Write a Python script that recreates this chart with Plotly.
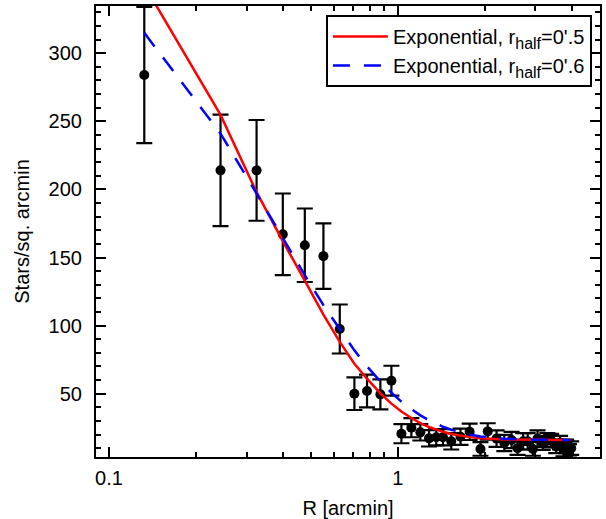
import plotly.graph_objects as go

# Observed radial profile
r_data = [0.1325, 0.2434, 0.3245, 0.400, 0.4767, 0.553, 0.630, 0.708, 0.783, 0.871, 0.951,
          1.03, 1.115, 1.198, 1.284, 1.36, 1.435, 1.533, 1.65, 1.775, 1.935, 2.05, 2.2,
          2.34, 2.48, 2.60, 2.72, 2.82, 2.94, 3.05, 3.18, 3.3, 3.4, 3.54, 3.65, 3.75,
          3.83, 3.92, 3.99]
dens = [284, 214, 214, 167, 159, 151, 97.5, 50, 52, 49.5, 59.5,
        20.6, 25, 21.6, 17.2, 18, 18, 15, 18.4, 22, 9.4, 22.3, 17,
        13.8, 16, 10, 15, 15, 9.4, 17, 13.8, 16, 15.5, 11.3, 14, 9,
        11.3, 8, 10]
dens_err = [50, 41, 37, 30, 27, 24, 18, 12, 12, 11, 11,
            7, 7, 6, 6, 6, 6, 6, 6, 6, 5, 6, 6,
            6, 6, 5, 6, 6, 5, 6, 5, 5, 5, 5, 5, 5,
            5, 5, 5]

# Model curves read at the same radii
model_05 = [350, 254.7, 198, 162, 133, 108, 88, 72, 61, 50.2, 42.7,
            36.9, 32.1, 28.4, 25.5, 23.5, 22, 20.4, 19.1, 18.1, 17.3, 16.9, 16.6,
            16.4, 16.3, 16.2, 16.2, 16.1, 16.1, 16.1, 16.1, 16.0, 16.0, 16.0, 16.0, 16.0,
            16.0, 16.0, 16.0]
model_06 = [315, 241, 197, 164, 137, 115, 97, 81.8, 70, 58.9, 50.7,
            44.2, 38.6, 34.1, 30.5, 27.8, 25.7, 23.5, 21.5, 20, 18.6, 17.9, 17.3,
            16.9, 16.6, 16.45, 16.3, 16.25, 16.2, 16.15, 16.1, 16.1, 16.05, 16.05, 16.0, 16.0,
            16.0, 16.0, 16.0]

label_05 = "Exponential, r<sub><span style='font-size:16px'>half</span></sub>=0'.5"
label_06 = "Exponential, r<sub><span style='font-size:16px'>half</span></sub>=0'.6"

x_major = [0.1, 1]
x_minor = [0.2, 0.3, 0.4, 0.5, 0.6, 0.7, 0.8, 0.9, 2, 3, 4, 5]
y_major = [50, 100, 150, 200, 250, 300]
y_minor = [10, 20, 30, 40, 60, 70, 80, 90, 110, 120, 130, 140, 160, 170, 180, 190,
           210, 220, 230, 240, 260, 270, 280, 290, 310, 320, 330]

FONT = "Liberation Sans, Arial, Helvetica, sans-serif"
FS = 20

fig = go.Figure()
fig.add_trace(go.Scatter(
    x=r_data, y=dens, mode="markers", showlegend=False,
    marker=dict(color="black", size=10),
    error_y=dict(type="data", array=dens_err, color="black", thickness=2.2, width=8),
))
fig.add_trace(go.Scatter(
    x=r_data, y=model_05, mode="lines", name=label_05,
    line=dict(color="#ff0000", width=2.5),
))
fig.add_trace(go.Scatter(
    x=r_data, y=model_06, mode="lines", name=label_06,
    line=dict(color="#0000ff", width=2.5, dash="17px,14px"),
))

axis_common = dict(
    showline=True, linecolor="black", linewidth=2.2, mirror="allticks",
    ticks="inside", ticklen=10, tickwidth=1.5, tickcolor="black",
    showgrid=False, zeroline=False, automargin=False,
    tickfont=dict(family=FONT, size=FS, color="black"),
    title_font=dict(family=FONT, size=FS, color="black"),
)

fig.update_xaxes(
    type="log", range=[-1.045, 0.7007],
    tickmode="array", tickvals=x_major, ticktext=["0.1", "1"],
    minor=dict(tickmode="array", tickvals=x_minor, ticks="inside", ticklen=5,
               tickwidth=1.5, tickcolor="black", showgrid=False),
    title_text="R [arcmin]", title_standoff=14,
    ticklabelstandoff=2,
    **axis_common,
)
fig.update_yaxes(
    range=[3.5, 334.7],
    tickmode="array", tickvals=y_major,
    minor=dict(tickmode="array", tickvals=y_minor, ticks="inside", ticklen=5,
               tickwidth=1.5, tickcolor="black", showgrid=False),
    title_text="Stars/sq. arcmin", title_standoff=14,
    ticklabelstandoff=8,
    **axis_common,
)

fig.update_layout(
    width=606, height=519,
    margin=dict(l=96, r=6, t=6, b=62),
    paper_bgcolor="white", plot_bgcolor="white",
    font=dict(family=FONT, size=FS, color="black"),
    legend=dict(
        x=0.984, y=0.98, xanchor="right", yanchor="top",
        bordercolor="black", borderwidth=2, bgcolor="white",
        font=dict(family=FONT, size=FS, color="black"),
        tracegroupgap=0, itemwidth=55,
    ),
)

fig.write_html("out.html", config={"displayModeBar": False},
               post_script="document.body.style.margin='0';document.body.style.overflow='hidden';")
